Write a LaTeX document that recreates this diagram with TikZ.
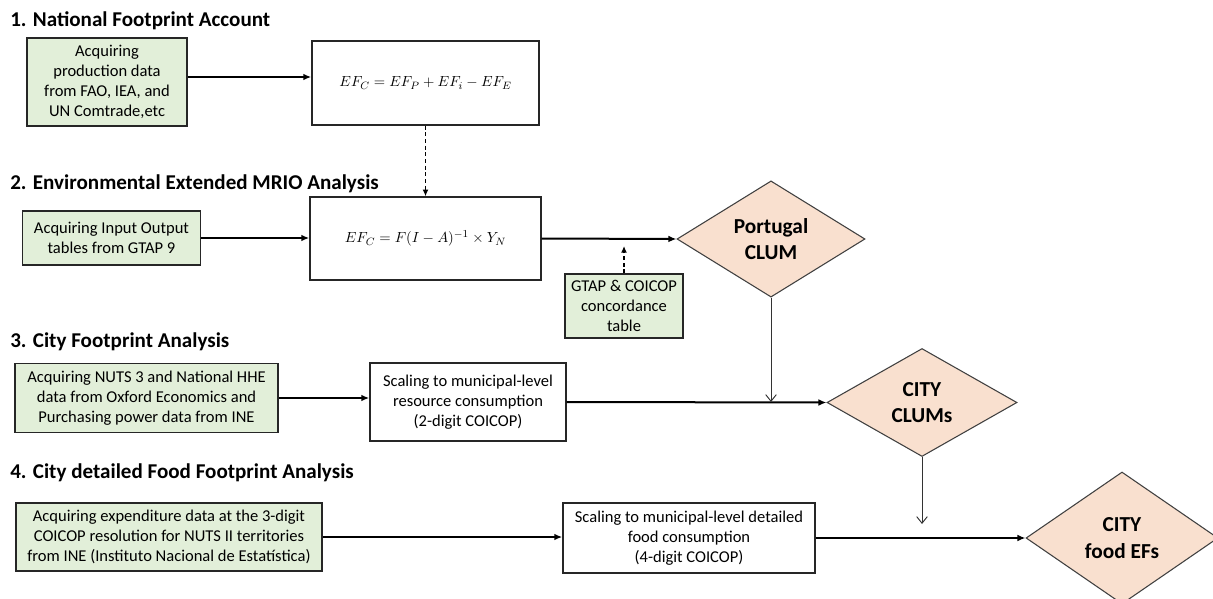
\documentclass[tikz,border=0pt]{standalone}
\usepackage{fontspec}
\setmainfont{Carlito}
\usetikzlibrary{shapes.geometric,arrows.meta}
\definecolor{gfill}{HTML}{E2EFD9}
\definecolor{pfill}{HTML}{F9E0CF}
\tikzset{
  ttl/.style={anchor=base west,inner sep=0pt,font=\fontsize{15.8}{18}\selectfont\bfseries},
  gbox/.style={draw=black!85,line width=1.1pt,fill=gfill,align=center,inner sep=2pt,font=\fontsize{12.4}{15}\selectfont},
  wbox/.style={draw=black!85,line width=1.1pt,fill=white,align=center,inner sep=2pt,font=\fontsize{12.4}{15}\selectfont},
  fbox/.style={draw=black!85,line width=1.1pt,fill=white,align=center,inner sep=2pt,font=\fontsize{11}{14}\selectfont},
  dia/.style={diamond,draw=black!75,line width=0.8pt,fill=pfill,align=center,inner sep=0pt,font=\fontsize{16}{20}\selectfont\bfseries},
  arr/.style={line width=1.5pt,-{Latex[length=6pt,width=5pt]}},
  darr/.style={line width=1pt,dashed,dash pattern=on 3pt off 2pt,-{Latex[length=5pt,width=4.5pt]}},
  tarr/.style={line width=0.7pt,draw=black!80,-{Straight Barb[length=5pt,width=8pt]}},
}
\begin{document}
\begin{tikzpicture}[x=0.75pt,y=-0.75pt]
\useasboundingbox[fill=white] (0,0) rectangle (1213,599);
% titles
\node[ttl] (t1) at (10,27) {1. National Footprint Account};
\node[ttl] (t2) at (10,190) {2. Environmental Extended MRIO Analysis};
\node[ttl] (t3) at (10,347) {3. City Footprint Analysis};
\node[ttl] (t4) at (10,478) {4. City detailed Food Footprint Analysis};
% row 1
\node[gbox,minimum width=120pt,minimum height=66pt] (g1) at (107,82) {Acquiring\\production data\\from FAO, IEA, and\\UN Comtrade,etc};
\node[fbox,minimum width=170.25pt,minimum height=63pt] (f1) at (425.5,83) {$EF_C = EF_P + EF_i - EF_E$};
% row 2
\node[gbox,minimum width=133.5pt,minimum height=40.5pt] (g2) at (111.5,238) {Acquiring Input Output\\tables from GTAP 9};
\node[fbox,minimum width=173.25pt,minimum height=62.25pt] (f2) at (425.5,238.5) {$EF_C = F(I-A)^{-1}\times Y_N$};
\node[dia,minimum width=141pt,minimum height=76.5pt] (p) at (771,239) {Portugal\\CLUM};
\node[gbox,minimum width=88.5pt,minimum height=48pt] (gt) at (624,306) {GTAP \& COICOP\\concordance\\table};
\coordinate (gtend) at (624,246);
% row 3
\node[gbox,minimum width=197.25pt,minimum height=51.75pt] (g3) at (146.5,398) {Acquiring NUTS 3 and National HHE\\data from Oxford Economics and\\Purchasing power data from INE};
\node[wbox,minimum width=147pt,minimum height=58.5pt] (b3) at (468,402) {Scaling to municipal-level\\resource consumption\\(2-digit COICOP)};
\node[dia,minimum width=142.5pt,minimum height=81pt] (c) at (922,402.5) {CITY\\CLUMs};
\coordinate (pc) at (771,402);
% row 4
\node[gbox,minimum width=229.5pt,minimum height=51pt] (g4) at (169,537) {Acquiring expenditure data at the 3-digit\\COICOP resolution for NUTS II territories\\from INE (Instituto Nacional de Estatística)};
\node[wbox,minimum width=189pt,minimum height=52.5pt] (b4) at (689,538) {Scaling to municipal-level detailed\\food consumption\\(4-digit COICOP)};
\node[dia,minimum width=144pt,minimum height=99pt] (e) at (1122,538) {CITY\\food EFs};
\coordinate (ce) at (922,524);
% connectors
\draw[arr] ([yshift=3.75pt]g1.east) -- ([yshift=3.75pt]g1.east -| f1.west);
\draw[darr] (f1.south) -- (f2.north);
\draw[arr] (g2.east) -- (g2.east -| f2.west);
\draw[arr] (f2.east) -- (p.west);
\draw[darr] (gt.north) -- (gtend);
\draw[arr] (g3.east) -- (g3.east -| b3.west);
\draw[arr] (b3.east) -- (c.west);
\draw[tarr] (p.south) -- (pc);
\draw[arr] (g4.east) -- (g4.east -| b4.west);
\draw[arr] (b4.east) -- (e.west);
\draw[tarr] (c.south) -- (ce);
\end{tikzpicture}
\end{document}
